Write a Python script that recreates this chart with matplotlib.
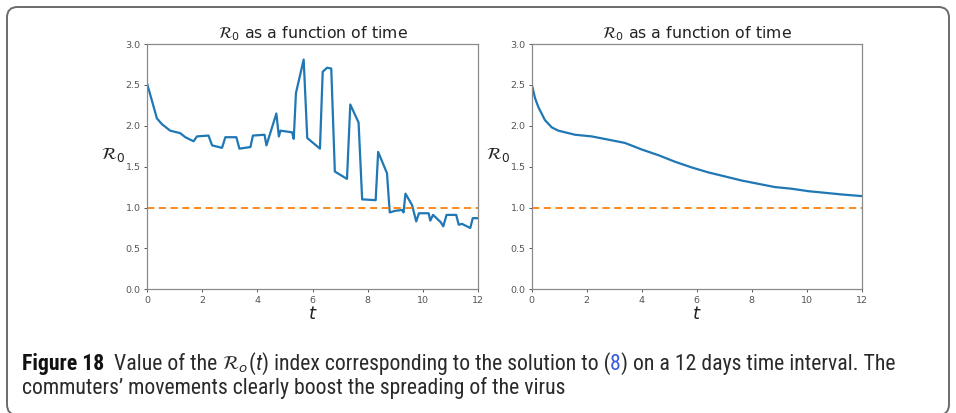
import matplotlib
matplotlib.use("Agg")
import matplotlib.pyplot as plt
from matplotlib.patches import FancyBboxPatch
from matplotlib import font_manager

# ---- data ----
t_left = [0, 0.36, 0.54, 0.84, 1.2, 1.39, 1.69, 1.81, 2.23, 2.36, 2.72, 2.84, 3.24, 3.35,
          3.75, 3.84, 4.26, 4.33, 4.69, 4.78, 4.84, 5.26, 5.32, 5.40, 5.68, 5.81, 6.27,
          6.37, 6.53, 6.68, 6.81, 7.25, 7.37, 7.67, 7.80, 8.29, 8.38, 8.70, 8.80, 9.0,
          9.25, 9.30, 9.37, 9.61, 9.76, 9.86, 10.21, 10.27, 10.37, 10.65, 10.74, 10.86,
          11.21, 11.30, 11.42, 11.72, 11.81, 12.0]
r_left = [2.52, 2.09, 2.02, 1.94, 1.91, 1.86, 1.81, 1.87, 1.88, 1.76, 1.73, 1.86, 1.86, 1.72,
          1.74, 1.88, 1.89, 1.76, 2.15, 1.87, 1.94, 1.92, 1.84, 2.40, 2.81, 1.85, 1.72,
          2.66, 2.71, 2.70, 1.44, 1.35, 2.26, 2.04, 1.10, 1.09, 1.68, 1.42, 0.94, 0.96,
          0.97, 0.94, 1.17, 1.03, 0.83, 0.93, 0.93, 0.84, 0.91, 0.82, 0.77, 0.91,
          0.91, 0.79, 0.80, 0.75, 0.87, 0.87]

t_right = [0, 0.12, 0.24, 0.48, 0.73, 0.97, 1.58, 2.18, 2.79, 3.39, 4.0, 4.61, 5.21, 5.82,
           6.42, 7.03, 7.64, 8.24, 8.85, 9.45, 10.06, 10.67, 11.27, 12.0]
r_right = [2.51, 2.34, 2.23, 2.07, 1.98, 1.94, 1.89, 1.87, 1.83, 1.79, 1.71, 1.64, 1.56, 1.49,
           1.43, 1.38, 1.33, 1.29, 1.25, 1.23, 1.20, 1.18, 1.16, 1.14]

threshold = 1.0
x_ticks = [0, 2, 4, 6, 8, 10, 12]
y_ticks = [0.0, 0.5, 1.0, 1.5, 2.0, 2.5, 3.0]
title_text = r"$\mathcal{R}_0$ as a function of time"

W, H = 956, 413
fig = plt.figure(figsize=(W / 100, H / 100), dpi=100)
fig.patch.set_facecolor("white")

# frame
frame = FancyBboxPatch((7 / W, 1 - 415 / H), (949 - 7) / W, (415 - 7) / H,
                       boxstyle="round,pad=0,rounding_size=0.011",
                       transform=fig.transFigure, facecolor="none",
                       edgecolor="#6b6b6b", linewidth=1.4, mutation_aspect=W / H)
fig.patches.append(frame)

def px_axes(x0, x1, ytop, ybot):
    return [x0 / W, 1 - ybot / H, (x1 - x0) / W, (ybot - ytop) / H]

axes_specs = [(px_axes(147, 478, 44, 289.3), t_left, r_left),
              (px_axes(531.7, 861.7, 44, 289.3), t_right, r_right)]

for rect, tt, rr in axes_specs:
    ax = fig.add_axes(rect)
    ax.plot(tt, rr, color="#1f77b4", lw=1.6)
    ax.axhline(threshold, color="#ff7f0e", ls="--", lw=1.3, dashes=(4, 2.5))
    ax.set_xlim(0, 12)
    ax.set_ylim(0, 3.0)
    ax.set_xticks(x_ticks)
    ax.set_yticks(y_ticks)
    ax.set_yticklabels([f"{v:.1f}" for v in y_ticks])
    ax.tick_params(labelsize=6.8, colors="#555555", length=2.5, width=0.7, pad=2)
    for sp in ax.spines.values():
        sp.set_color("#8a8a8a")
        sp.set_linewidth(0.9)
    ax.set_title(title_text, fontsize=11.3, color="#222222", pad=4)
    ax.set_ylabel(r"$\mathcal{R}_0$", fontsize=12.5, rotation=0, color="#222222",
                  va="center", ha="center")
    ax.yaxis.set_label_coords(-0.103, 0.55)
    ax.set_xlabel(r"$t$", fontsize=13, color="#222222", labelpad=0)

# caption
names = {f.name for f in font_manager.fontManager.ttflist}
cap_font = "DejaVu Sans"
for cand in ["Liberation Sans Narrow", "Roboto Condensed", "Open Sans Condensed", "Lato", "Open Sans"]:
    if cand in names:
        cap_font = cand
        break

renderer = fig.canvas.get_renderer()

def write_line(pieces, x_px, y_px, size):
    x = x_px
    objs = []
    for txt, weight, color, style, rel in pieces:
        t = fig.text(x / W, 1 - y_px / H, txt, fontsize=size * rel, fontweight=weight,
                     fontstyle=style, color=color, family=[cap_font, "DejaVu Sans"],
                     va="baseline", ha="left")
        bb = t.get_window_extent(renderer=renderer)
        x += bb.width
        objs.append(t)
    return x, objs

dark = "#2a2a2a"
line1 = [("Figure 18", "bold", "#111111", "normal", 1.0),
         ("  Value of the ", "normal", dark, "normal", 1.0),
         (r"$\mathcal{R}_o$", "normal", dark, "normal", 0.88),
         ("(", "normal", dark, "normal", 1.0),
         ("t", "normal", dark, "italic", 1.0),
         (")", "normal", dark, "normal", 1.0),
         (" index corresponding to the solution to (", "normal", dark, "normal", 1.0),
         ("8", "normal", "#3b5bdb", "normal", 1.0),
         (") on a 12 days time interval. The", "normal", dark, "normal", 1.0)]
line2 = [("commuters\u2019 movements clearly boost the spreading of the virus", "normal", dark, "normal", 1.0)]

# fit size so line 1 ends at ~895 px
size = 12.0
end, objs = write_line(line1, 22, 371, size)
for o in objs:
    o.remove()
size = size * (895 - 22) / (end - 22)
write_line(line1, 22, 370, size)
write_line(line2, 22, 394, size)

fig.savefig("out.png", dpi=100, facecolor="white")
